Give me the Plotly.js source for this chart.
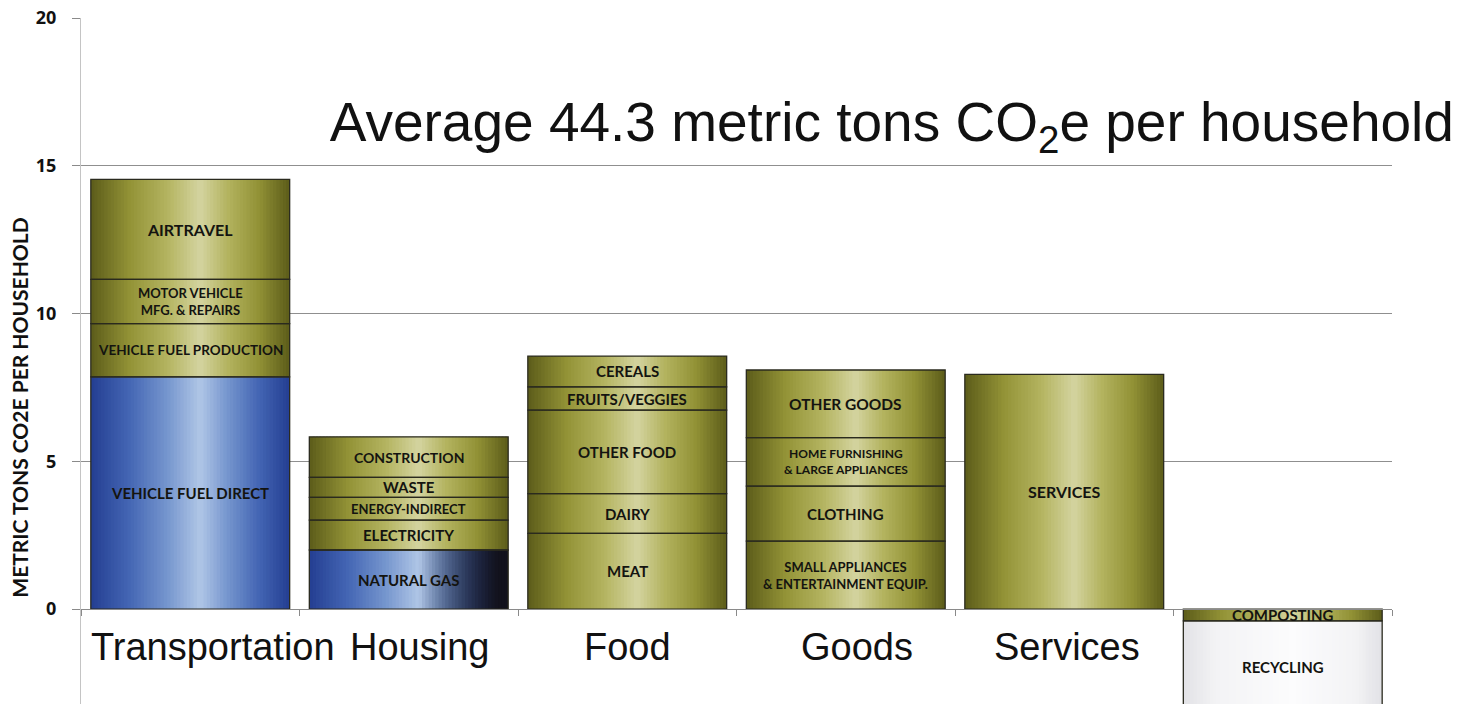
<!DOCTYPE html>
<html>
<head>
<meta charset="utf-8">
<script src="https://cdn.plot.ly/plotly-3.0.1.min.js"></script>
<style>
  html, body { margin: 0; padding: 0; background: #ffffff; }
  #chart { width: 1462px; height: 704px; }
</style>
</head>
<body>
<div id="chart"></div>
<script>
// ---------------- DATA ----------------
const categories = ['Transportation', 'Housing', 'Food', 'Goods', 'Services', 'Waste'];
const categoryLabels = ['Transportation', 'Housing', 'Food', 'Goods', 'Services', ''];

const transportationParts = ['VEHICLE FUEL DIRECT', 'VEHICLE FUEL PRODUCTION', 'MOTOR VEHICLE<br>MFG. & REPAIRS', 'AIRTRAVEL'];
const transportationValues = [7.86, 1.80, 1.50, 3.38];

const housingParts = ['NATURAL GAS', 'ELECTRICITY', 'ENERGY-INDIRECT', 'WASTE', 'CONSTRUCTION'];
const housingValues = [2.00, 1.01, 0.77, 0.68, 1.37];

const foodParts = ['MEAT', 'DAIRY', 'OTHER FOOD', 'FRUITS/VEGGIES', 'CEREALS'];
const foodValues = [2.56, 1.35, 2.82, 0.79, 1.04];

const goodsParts = ['SMALL APPLIANCES<br>& ENTERTAINMENT EQUIP.', 'CLOTHING', 'HOME FURNISHING<br>& LARGE APPLIANCES', 'OTHER GOODS'];
const goodsValues = [2.30, 1.86, 1.64, 2.29];

const servicesParts = ['SERVICES'];
const servicesValues = [7.94];

const wasteParts = ['COMPOSTING', 'RECYCLING'];
const wasteValues = [-0.40, -3.10];

const yTickValues = [0, 5, 10, 15, 20];
const chartTitle = 'Average 44.3 metric tons CO<sub>2</sub>e per household';
const yAxisTitle = 'METRIC TONS CO2E PER HOUSEHOLD';

// ---------------- STYLE ----------------
const partsByCategory = [transportationParts, housingParts, foodParts, goodsParts, servicesParts, wasteParts];
const valuesByCategory = [transportationValues, housingValues, foodValues, goodsValues, servicesValues, wasteValues];

const fillStyle = { 'VEHICLE FUEL DIRECT': 'blue', 'NATURAL GAS': 'bluedark', 'RECYCLING': 'white' };
const labelSize = { 'MOTOR VEHICLE<br>MFG. & REPAIRS': 13, 'ENERGY-INDIRECT': 13, 'HOME FURNISHING<br>& LARGE APPLIANCES': 12, 'SMALL APPLIANCES<br>& ENTERTAINMENT EQUIP.': 13, 'VEHICLE FUEL PRODUCTION': 13.5, 'CONSTRUCTION': 14, 'AIRTRAVEL': 16, 'SERVICES': 16, 'OTHER GOODS': 15.5 };
const labelShift = { 'Transportation': 23, 'Housing': 11, 'Goods': 11, 'Services': 3 };

function lerp(a, b, t) { return a.map((v, i) => v + (b[i] - v) * t); }
function stops(list, s) {
  for (let i = 0; i < list.length - 1; i++) {
    if (s <= list[i + 1][0]) {
      const t = (s - list[i][0]) / (list[i + 1][0] - list[i][0]);
      return lerp(list[i][1], list[i + 1][1], t);
    }
  }
  return list[list.length - 1][1];
}
function rgb(c) { return 'rgb(' + c.map(v => Math.round(v)).join(',') + ')'; }

const olive = [[0, [92, 92, 26]], [0.35, [146, 146, 54]], [0.7, [180, 180, 96]], [1, [212, 212, 160]]];
const blue = [[0, [36, 62, 146]], [0.35, [68, 102, 180]], [0.7, [118, 150, 206]], [1, [176, 198, 230]]];
const white = [[0, [226, 226, 230]], [0.3, [243, 243, 245]], [1, [252, 252, 253]]];

function colorAt(kind, t) {
  const c = 0.55;
  let s = t < c ? t / c : (1 - t) / (1 - c);
  s = Math.max(0, Math.min(1, s));
  if (kind === 'blue') return rgb(stops(blue, s));
  if (kind === 'white') return rgb(stops(white, s));
  if (kind === 'bluedark') {
    const base = stops(blue, s);
    if (t > 0.55) {
      const k = Math.min(1, (t - 0.55) / 0.4);
      return rgb(lerp(base, [18, 18, 28], k));
    }
    return rgb(base);
  }
  return rgb(stops(olive, s));
}

// ---------------- BUILD SEGMENTS ----------------
const segX = [], segBase = [], segVal = [], segName = [];
categories.forEach((cat, i) => {
  let up = 0, down = 0;
  partsByCategory[i].forEach((p, j) => {
    const v = valuesByCategory[i][j];
    segX.push(cat); segName.push(p); segVal.push(v);
    if (v >= 0) { segBase.push(up); up += v; } else { segBase.push(down); down += v; }
  });
});

const W = 0.91;
const N = 60;
const traces = [];
for (let k = 0; k < N; k++) {
  const t = (k + 0.5) / N;
  traces.push({
    type: 'bar',
    x: segX, y: segVal, base: segBase,
    width: W / N * (k < N - 1 ? 1.6 : 1),
    offset: -W / 2 + k * W / N,
    marker: { color: segName.map(n => colorAt(fillStyle[n] || 'olive', t)), line: { width: 0 } },
    hoverinfo: 'skip', showlegend: false
  });
}
traces.push({
  type: 'bar',
  x: segX, y: segVal, base: segBase,
  width: W, offset: -W / 2,
  marker: { color: 'rgba(0,0,0,0)', line: { width: 1.3, color: '#2a2a1e' } },
  hoverinfo: 'skip', showlegend: false
});

const yMin = -3.21, yMax = 20;

const annotations = [];
segName.forEach((n, i) => {
  annotations.push({
    x: segX[i], y: segBase[i] + segVal[i] / 2, xref: 'x', yref: 'y',
    text: n, showarrow: false,
    font: { family: 'Lato, "Open Sans", sans-serif', size: labelSize[n] || 15, color: '#141410', weight: 'bold' },
    align: 'center'
  });
});
categories.forEach((cat, i) => {
  if (!categoryLabels[i]) return;
  annotations.push({
    x: cat, y: -1.28, xref: 'x', yref: 'y',
    text: categoryLabels[i], showarrow: false,
    xshift: labelShift[cat] || 0,
    font: { family: '"Liberation Sans", Arial, sans-serif', size: 38, color: '#111111' }
  });
});
annotations.push({
  x: -0.0465, y: 0.432, xref: 'paper', yref: 'paper',
  text: yAxisTitle, textangle: -90, showarrow: false,
  xanchor: 'center', yanchor: 'middle',
  font: { family: 'Lato, "Open Sans", sans-serif', size: 21, color: '#111111', weight: 'bold' }
});

const layout = {
  width: 1462, height: 704,
  margin: { l: 81, r: 70, t: 18, b: 0, pad: 0 },
  paper_bgcolor: '#ffffff', plot_bgcolor: '#ffffff',
  barmode: 'overlay',
  title: {
    text: chartTitle,
    font: { family: '"Liberation Sans", Arial, sans-serif', size: 55, color: '#111111' },
    x: 0.61, xanchor: 'center', y: 0.827, yanchor: 'middle'
  },
  xaxis: {
    type: 'category', categoryorder: 'array', categoryarray: categories,
    range: [-0.5, 5.5], anchor: 'free', position: (0 - yMin) / (yMax - yMin),
    showline: true, linecolor: '#8a8a8a', linewidth: 1,
    ticks: 'outside', tickson: 'boundaries', ticklen: 6, tickcolor: '#8a8a8a',
    showticklabels: false, showgrid: false, zeroline: false, fixedrange: true
  },
  yaxis: {
    range: [yMin, yMax], tickvals: yTickValues,
    ticks: 'outside', ticklen: 8, tickcolor: '#8a8a8a',
    ticklabelstandoff: 12,
    tickfont: { family: '"Open Sans", Lato, sans-serif', size: 18, color: '#111111', weight: 'bold' },
    showgrid: true, gridcolor: '#8f8f8f', gridwidth: 1,
    showline: true, linecolor: '#c4c4c4', linewidth: 1,
    zeroline: false, fixedrange: true
  },
  annotations: annotations,
  showlegend: false
};

Plotly.newPlot('chart', traces, layout, { displayModeBar: false, staticPlot: true });
</script>
</body>
</html>
